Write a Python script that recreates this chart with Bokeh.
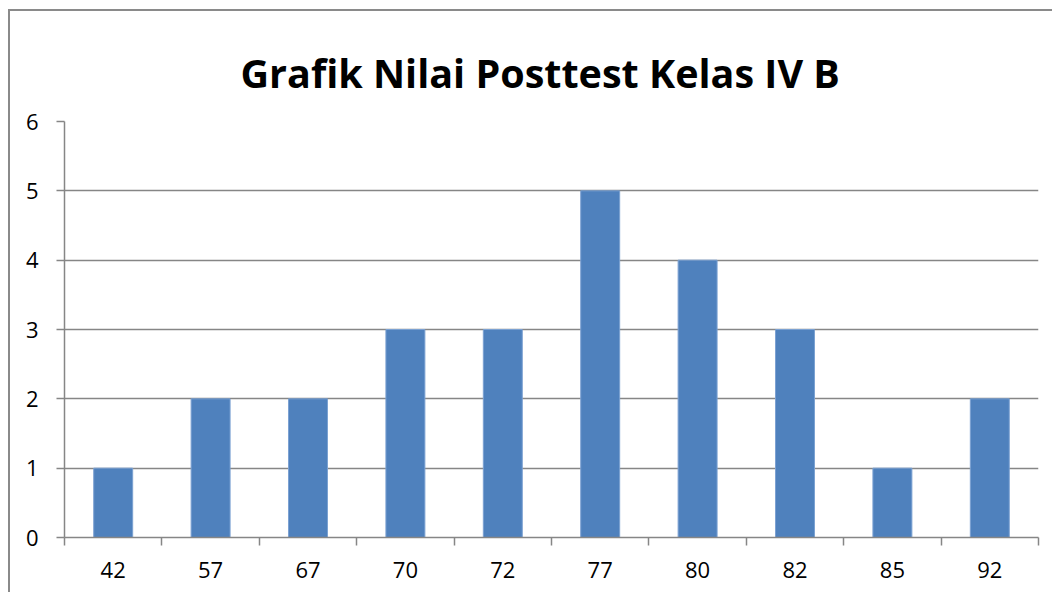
from bokeh.plotting import figure
from bokeh.models import Range1d, FixedTicker, ColumnDataSource
from bokeh.embed import file_html
from bokeh.resources import INLINE

categories = ["42", "57", "67", "70", "72", "77", "80", "82", "85", "92"]
counts = [1, 2, 2, 3, 3, 5, 4, 3, 1, 2]
y_ticks = [0, 1, 2, 3, 4, 5, 6]
title_text = "Grafik Nilai Posttest Kelas IV B"

n = len(categories)
centers = [i + 0.5 for i in range(n)]
bounds = [float(i) for i in range(n + 1)]

src = ColumnDataSource(dict(x=centers, top=counts, cat=categories))

p = figure(width=1044, height=583, output_backend="svg", toolbar_location=None,
           x_range=Range1d(0, n), y_range=Range1d(0, 6),
           min_border_left=54, min_border_right=16, min_border_top=110, min_border_bottom=57)
p.styles = {"margin-left": "8px", "margin-top": "9px",
            "border-left": "2px solid #8a8a8a", "border-top": "2px solid #8a8a8a"}
p.outline_line_color = None
p.background_fill_color = "white"
p.border_fill_color = "white"

p.vbar(x="x", top="top", width=0.4, bottom=0, source=src,
       fill_color="#4F81BD", line_color="#7BA1D2", line_width=1)

p.title.text = title_text
p.title.align = "left"
p.title.vertical_align = "top"
p.title.text_line_height = 0.7
p.title.text_font = "Open Sans"
p.title.text_font_style = "bold"
p.title.text_font_size = "39.5px"
p.title.text_color = "black"
p.title.offset = 176
p.title.standoff = 40

# x axis
p.xaxis.ticker = FixedTicker(ticks=centers, minor_ticks=bounds)
p.xaxis.major_label_overrides = {c: lab for c, lab in zip(centers, categories)}
p.xaxis.major_tick_out = 0
p.xaxis.major_tick_in = 0
p.xaxis.minor_tick_out = 8
p.xaxis.minor_tick_in = 0
p.xaxis.minor_tick_line_color = "#868686"
p.xaxis.minor_tick_line_width = 1.5
p.xaxis.axis_line_color = "#868686"
p.xaxis.axis_line_width = 1.5
p.xaxis.major_label_text_font = "Open Sans"
p.xaxis.major_label_text_font_size = "22px"
p.xaxis.major_label_text_color = "black"
p.xaxis.major_label_standoff = 16

# y axis
p.yaxis.ticker = FixedTicker(ticks=y_ticks, minor_ticks=[])
p.yaxis.major_tick_out = 8
p.yaxis.major_tick_in = 0
p.yaxis.major_tick_line_color = "#868686"
p.yaxis.major_tick_line_width = 1.5
p.yaxis.axis_line_color = "#868686"
p.yaxis.axis_line_width = 1.5
p.yaxis.major_label_text_font = "Open Sans"
p.yaxis.major_label_text_font_size = "22px"
p.yaxis.major_label_text_color = "black"
p.yaxis.major_label_standoff = 18

p.xgrid.grid_line_color = None
p.ygrid.ticker = FixedTicker(ticks=y_ticks)
p.ygrid.grid_line_color = "#868686"
p.ygrid.grid_line_width = 1.5

open("out.html", "w").write(file_html(p, INLINE))
